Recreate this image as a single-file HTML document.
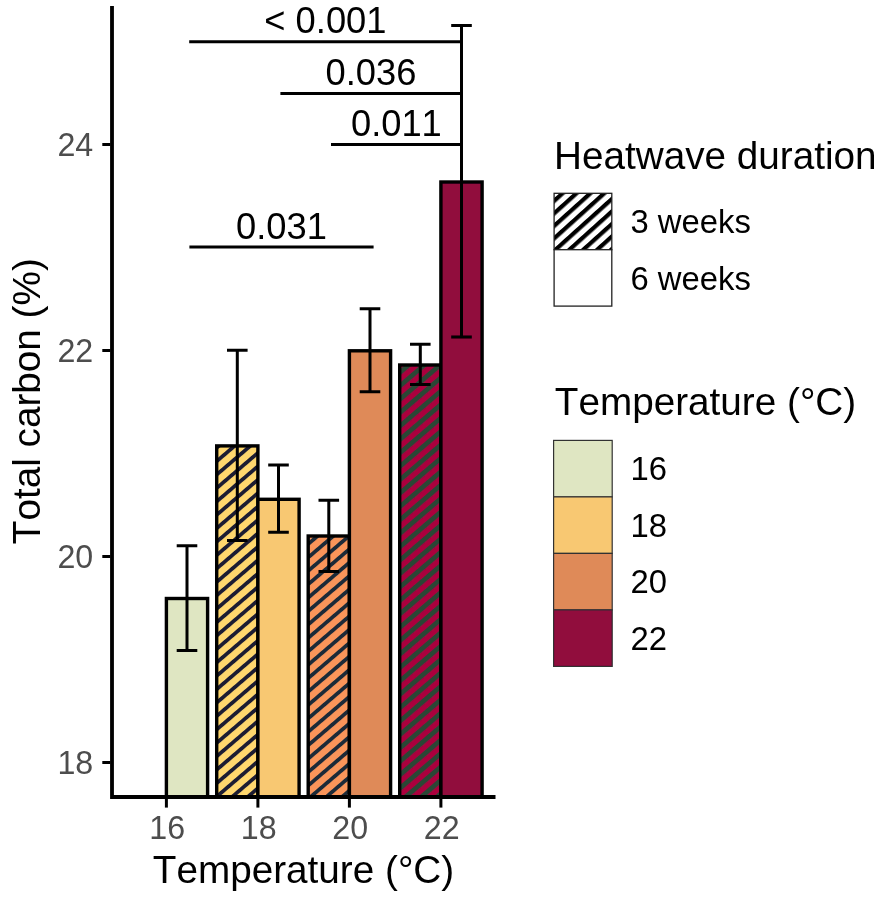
<!DOCTYPE html>
<html lang="en"><head><meta charset="utf-8"><title>Total carbon by temperature</title>
<style>
html,body{margin:0;padding:0;background:#fff;}
body{width:886px;height:904px;overflow:hidden;}
svg{display:block;}
text{font-family:"Liberation Sans",Arial,Helvetica,sans-serif;font-kerning:none;}
.tk{font-size:32.2px;fill:#4d4d4d;}
.ti{font-size:38.7px;fill:#000;}
.lg{font-size:32.8px;fill:#000;}
.pv{font-size:36.3px;fill:#000;}
</style></head><body>
<svg width="886" height="904" viewBox="0 0 886 904">
<defs>
<pattern id="h18" patternUnits="userSpaceOnUse" width="10.2" height="10.2" patternTransform="rotate(-40.5) translate(0 0)"><rect width="10.2" height="10.2" fill="#ffd76e"/><rect y="0" width="10.2" height="3.75" fill="#1a1b33"/></pattern>
<pattern id="h20" patternUnits="userSpaceOnUse" width="10.2" height="10.2" patternTransform="rotate(-40.5) translate(0 0)"><rect width="10.2" height="10.2" fill="#fa955a"/><rect y="0" width="10.2" height="3.75" fill="#1a2a38"/></pattern>
<pattern id="h22" patternUnits="userSpaceOnUse" width="10.2" height="10.2" patternTransform="rotate(-40.5) translate(0 0)"><rect width="10.2" height="10.2" fill="#ab003e"/><rect y="0" width="10.2" height="4.8" fill="#2b4636"/></pattern>
<pattern id="hl" patternUnits="userSpaceOnUse" width="9.3" height="9.3" patternTransform="rotate(-42) translate(0 -2.8)"><rect width="9.3" height="9.3" fill="#ffffff"/><rect y="0" width="9.3" height="4.2" fill="#000000"/></pattern>
<filter id="soft" x="0" y="0" width="886" height="904" filterUnits="userSpaceOnUse"><feGaussianBlur stdDeviation="0.5"/></filter>
</defs>
<rect width="886" height="904" fill="#fff"/>
<g filter="url(#soft)">
<rect width="886" height="904" fill="#fff"/>
<rect x="166.4" y="598.5" width="41.2" height="198.5" fill="#dfe6c2" stroke="#000" stroke-width="3.4" stroke-linejoin="miter"/>
<rect x="216.7" y="445.9" width="41.2" height="351.1" fill="url(#h18)" stroke="#000" stroke-width="3.4" stroke-linejoin="miter"/>
<rect x="257.9" y="499.3" width="41.2" height="297.7" fill="#f8c872" stroke="#000" stroke-width="3.4" stroke-linejoin="miter"/>
<rect x="308.2" y="536.0" width="41.2" height="261.0" fill="url(#h20)" stroke="#000" stroke-width="3.4" stroke-linejoin="miter"/>
<rect x="349.4" y="350.8" width="41.2" height="446.2" fill="#df8a59" stroke="#000" stroke-width="3.4" stroke-linejoin="miter"/>
<rect x="399.7" y="365.0" width="41.2" height="432.0" fill="url(#h22)" stroke="#000" stroke-width="3.4" stroke-linejoin="miter"/>
<rect x="440.9" y="182.0" width="41.2" height="615.0" fill="#91083e" stroke="#000" stroke-width="3.4" stroke-linejoin="miter"/>
<path d="M176.7 545.8H197.3M187.0 545.8V650.4M176.7 650.4H197.3" fill="none" stroke="#000" stroke-width="3"/>
<path d="M227.0 350.3H247.6M237.3 350.3V540.4M227.0 540.4H247.6" fill="none" stroke="#000" stroke-width="3"/>
<path d="M268.2 465.0H288.8M278.5 465.0V532.3M268.2 532.3H288.8" fill="none" stroke="#000" stroke-width="3"/>
<path d="M318.5 500.3H339.1M328.8 500.3V571.5M318.5 571.5H339.1" fill="none" stroke="#000" stroke-width="3"/>
<path d="M359.7 308.7H380.3M370.0 308.7V391.7M359.7 391.7H380.3" fill="none" stroke="#000" stroke-width="3"/>
<path d="M410.0 344.3H430.6M420.3 344.3V384.5M410.0 384.5H430.6" fill="none" stroke="#000" stroke-width="3"/>
<path d="M451.2 25.6H471.8M461.5 25.6V337.1M451.2 337.1H471.8" fill="none" stroke="#000" stroke-width="3"/>
<path d="M112 6V797.0H495.5" fill="none" stroke="#000" stroke-width="3.8" stroke-linejoin="miter"/>
<path d="M102.3 144.5H110.5" stroke="#000" stroke-width="3" fill="none"/>
<text class="tk" transform="translate(93.2 156.4) scale(1 1.05)" text-anchor="end">24</text>
<path d="M102.3 350.5H110.5" stroke="#000" stroke-width="3" fill="none"/>
<text class="tk" transform="translate(93.2 362.4) scale(1 1.05)" text-anchor="end">22</text>
<path d="M102.3 556.5H110.5" stroke="#000" stroke-width="3" fill="none"/>
<text class="tk" transform="translate(93.2 568.4) scale(1 1.05)" text-anchor="end">20</text>
<path d="M102.3 762.5H110.5" stroke="#000" stroke-width="3" fill="none"/>
<text class="tk" transform="translate(93.2 774.4) scale(1 1.05)" text-anchor="end">18</text>
<path d="M166.4 798.5V807.6" stroke="#000" stroke-width="3" fill="none"/>
<text class="tk" transform="translate(167.2 839.4) scale(1 1.05)" text-anchor="middle">16</text>
<path d="M257.9 798.5V807.6" stroke="#000" stroke-width="3" fill="none"/>
<text class="tk" transform="translate(258.7 839.4) scale(1 1.05)" text-anchor="middle">18</text>
<path d="M349.4 798.5V807.6" stroke="#000" stroke-width="3" fill="none"/>
<text class="tk" transform="translate(350.2 839.4) scale(1 1.05)" text-anchor="middle">20</text>
<path d="M440.9 798.5V807.6" stroke="#000" stroke-width="3" fill="none"/>
<text class="tk" transform="translate(441.7 839.4) scale(1 1.05)" text-anchor="middle">22</text>
<text class="ti" x="303.5" y="882.5" text-anchor="middle">Temperature (°C)</text>
<text class="ti" transform="translate(40 401.2) rotate(-90)" text-anchor="middle">Total carbon (%)</text>
<path d="M189.2 41.8H461.7" stroke="#000" stroke-width="3" fill="none"/>
<text class="pv" x="325.4" y="33.2" text-anchor="middle">&lt; 0.001</text>
<path d="M280.4 93.6H461.7" stroke="#000" stroke-width="3" fill="none"/>
<text class="pv" x="371.0" y="84.9" text-anchor="middle">0.036</text>
<path d="M331.0 144.4H461.7" stroke="#000" stroke-width="3" fill="none"/>
<text class="pv" x="396.4" y="136.2" text-anchor="middle">0.011</text>
<path d="M189.4 247.1H373.6" stroke="#000" stroke-width="3" fill="none"/>
<text class="pv" x="281.5" y="238.9" text-anchor="middle">0.031</text>
<text class="ti" x="554" y="168.6">Heatwave duration</text>
<rect x="554.1" y="193.3" width="57.7" height="56.4" fill="url(#hl)" stroke="#222" stroke-width="1.3"/>
<rect x="554.1" y="249.7" width="57.7" height="56.4" fill="#fff" stroke="#222" stroke-width="1.3"/>
<text class="lg" x="630.5" y="233">3 weeks</text>
<text class="lg" x="630.5" y="290">6 weeks</text>
<text class="ti" x="554.8" y="414.9">Temperature (°C)</text>
<rect x="553.6" y="440.4" width="58.6" height="56.5" fill="#dfe6c2" stroke="#333" stroke-width="1.2"/>
<text class="lg" x="630.5" y="479.8">16</text>
<rect x="553.6" y="496.9" width="58.6" height="56.5" fill="#f8c872" stroke="#333" stroke-width="1.2"/>
<text class="lg" x="630.5" y="536.5">18</text>
<rect x="553.6" y="553.4" width="58.6" height="56.5" fill="#df8a59" stroke="#333" stroke-width="1.2"/>
<text class="lg" x="630.5" y="593.1">20</text>
<rect x="553.6" y="609.9" width="58.6" height="56.5" fill="#91083e" stroke="#333" stroke-width="1.2"/>
<text class="lg" x="630.5" y="649.8">22</text>
</g>
</svg>
</body></html>
